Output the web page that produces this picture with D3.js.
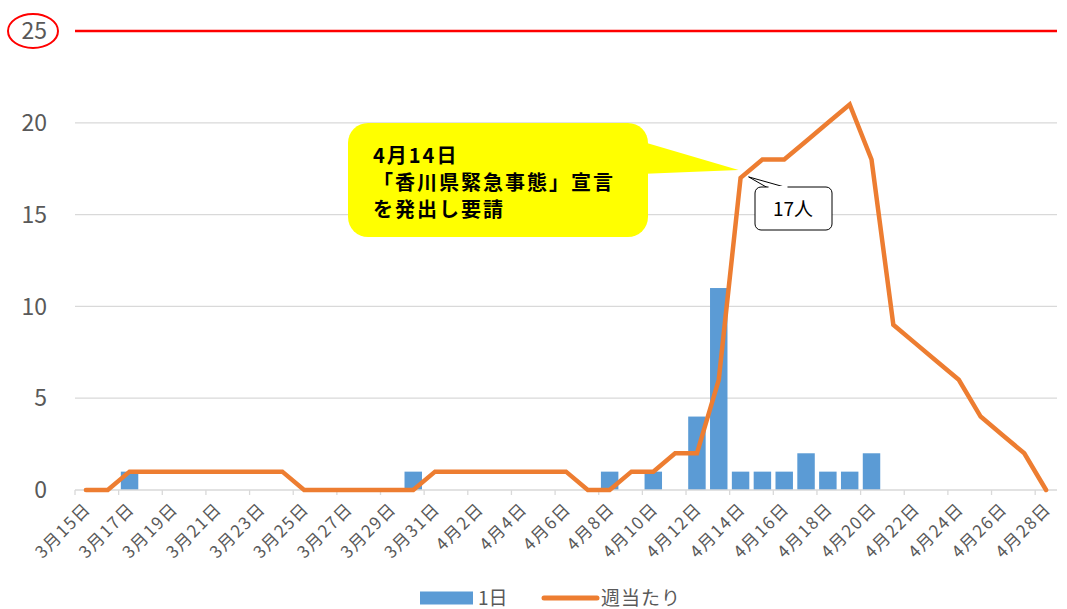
<!DOCTYPE html>
<html>
<head>
<meta charset="utf-8">
<script src="https://cdn.jsdelivr.net/npm/d3@7"></script>
<style>
  body { margin: 0; background: #fff; }
  svg { display: block; font-family: "Noto Sans CJK JP", "Noto Sans", sans-serif; }
</style>
</head>
<body>
<svg id="chart" width="1067" height="609"></svg>
<script>
// ---- données ----
const dates = [
  "3月15日","3月16日","3月17日","3月18日","3月19日","3月20日","3月21日","3月22日","3月23日",
  "3月24日","3月25日","3月26日","3月27日","3月28日","3月29日","3月30日","3月31日",
  "4月1日","4月2日","4月3日","4月4日","4月5日","4月6日","4月7日","4月8日","4月9日","4月10日",
  "4月11日","4月12日","4月13日","4月14日","4月15日","4月16日","4月17日","4月18日","4月19日",
  "4月20日","4月21日","4月22日","4月23日","4月24日","4月25日","4月26日","4月27日","4月28日"
];
const daily = [
  0,0,1,0,0,0,0,0,0, 0,0,0,0,0,0,1,0,
  0,0,0,0,0,0,0,1,0,1, 0,4,11,1,1,1,2,1,1, 2,0,0,0,0,0,0,0,0
];
const weekly = [
  0,0,1,1,1,1,1,1,1, 1,0,0,0,0,0,0,1,
  1,1,1,1,1,1,0,0,1,1, 2,2,6,17,18,18,19,20,21, 18,9,8,7,6,4,3,2,0
];
const yTicks = [0, 5, 10, 15, 20, 25];
const seriesNames = ["1日", "週当たり"];
const noteLines = ["4月14日", "「香川県緊急事態」宣言", "を発出し要請"];
const peakLabel = "17人";

// ---- mise en page ----
const svg = d3.select("#chart");
const plotLeft = 75, plotRight = 1057, plotTop = 31, plotBottom = 490;

const x = d3.scaleBand().domain(dates).range([plotLeft, plotRight]).paddingInner(0.2).paddingOuter(0.1);
const step = x.step();
const xc = d => x(d) + x.bandwidth() / 2;
const y = d3.scaleLinear().domain([0, 25]).range([plotBottom, plotTop]);

// grille
svg.append("g").selectAll("line")
  .data(yTicks.filter(t => t > 0 && t < 25))
  .join("line")
  .attr("x1", plotLeft).attr("x2", plotRight)
  .attr("y1", d => y(d)).attr("y2", d => y(d))
  .attr("stroke", "#d9d9d9").attr("stroke-width", 1.3);

// ligne rouge à 25
svg.append("line")
  .attr("x1", plotLeft).attr("x2", plotRight)
  .attr("y1", y(25)).attr("y2", y(25))
  .attr("stroke", "#ff0000").attr("stroke-width", 2.5);

// étiquettes Y
svg.append("g").selectAll("text")
  .data(yTicks)
  .join("text")
  .attr("x", 47).attr("y", d => y(d))
  .attr("dy", "0.36em")
  .attr("text-anchor", "end")
  .style("font-size", "23px")
  .style("fill", "#595959")
  .text(d => d);

svg.append("ellipse")
  .attr("cx", 33).attr("cy", y(25))
  .attr("rx", 25).attr("ry", 17)
  .attr("fill", "none").attr("stroke", "#ff0000").attr("stroke-width", 2);

// barres
svg.append("g").selectAll("rect")
  .data(dates.map((d, i) => ({ d, v: daily[i] })).filter(o => o.v > 0))
  .join("rect")
  .attr("x", o => x(o.d))
  .attr("width", x.bandwidth())
  .attr("y", o => y(o.v))
  .attr("height", o => y(0) - y(o.v))
  .attr("fill", "#5b9bd5");

// axe X
svg.append("line")
  .attr("x1", plotLeft).attr("x2", plotRight)
  .attr("y1", plotBottom).attr("y2", plotBottom)
  .attr("stroke", "#d9d9d9").attr("stroke-width", 1.3);

const tickIdx = d3.range(0, dates.length + 1, 2);
svg.append("g").selectAll("line")
  .data(tickIdx)
  .join("line")
  .attr("x1", i => plotLeft + i * step).attr("x2", i => plotLeft + i * step)
  .attr("y1", plotBottom).attr("y2", plotBottom + 5)
  .attr("stroke", "#d9d9d9").attr("stroke-width", 1.3);

svg.append("g").selectAll("text")
  .data(dates.filter((d, i) => i % 2 === 0))
  .join("text")
  .attr("transform", d => `translate(${xc(d) + 6},${plotBottom + 20}) rotate(-45)`)
  .attr("text-anchor", "end")
  .style("font-size", "17px")
  .style("letter-spacing", "1.5px")
  .style("fill", "#595959")
  .text(d => d);

// ligne hebdomadaire
const line = d3.line().x((v, i) => xc(dates[i])).y(v => y(v));
svg.append("path")
  .datum(weekly)
  .attr("d", line)
  .attr("fill", "none")
  .attr("stroke", "#ed7d31")
  .attr("stroke-width", 4.5)
  .attr("stroke-linecap", "round")
  .attr("stroke-linejoin", "miter");

// bulle jaune
const i14 = dates.indexOf("4月14日");
const tipX = xc(dates[i14]), tipY = y(weekly[i14]);
svg.append("path")
  .attr("d", `M640,141 L${tipX - 2},${tipY - 8} L640,174 Z`)
  .attr("fill", "#ffff00");
svg.append("rect")
  .attr("x", 348).attr("y", 123).attr("width", 300).attr("height", 114)
  .attr("rx", 20).attr("fill", "#ffff00");
svg.append("g").selectAll("text")
  .data(noteLines)
  .join("text")
  .attr("x", 373)
  .attr("y", (d, i) => 163 + i * 27)
  .style("font-size", "20px")
  .style("font-weight", "bold")
  .style("letter-spacing", "2px")
  .style("fill", "#000")
  .text(d => d);

// bulle 17人
svg.append("path")
  .attr("d", `M768,188 L${tipX + 8},${tipY - 1} L788,188`)
  .attr("fill", "#fff").attr("stroke", "#000").attr("stroke-width", 1);
svg.append("rect")
  .attr("x", 755).attr("y", 187).attr("width", 77).attr("height", 43)
  .attr("rx", 6).attr("fill", "#fff").attr("stroke", "#000").attr("stroke-width", 1);
svg.append("line")
  .attr("x1", 768.5).attr("x2", 787.5).attr("y1", 187).attr("y2", 187)
  .attr("stroke", "#fff").attr("stroke-width", 2);
svg.append("text")
  .attr("x", 793).attr("y", 209).attr("dy", "0.36em")
  .attr("text-anchor", "middle")
  .style("font-size", "19px")
  .style("fill", "#000")
  .text(peakLabel);

// légende
const leg = svg.append("g").attr("transform", "translate(0,598)");
leg.append("rect").attr("x", 420).attr("y", -6.5).attr("width", 53).attr("height", 13).attr("fill", "#5b9bd5");
leg.append("text").attr("x", 478).attr("y", 0).attr("dy", "0.36em")
  .style("font-size", "19px").style("fill", "#595959").text(seriesNames[0]);
leg.append("line").attr("x1", 544).attr("x2", 597).attr("y1", 0).attr("y2", 0)
  .attr("stroke", "#ed7d31").attr("stroke-width", 5).attr("stroke-linecap", "round");
leg.append("text").attr("x", 601).attr("y", 0).attr("dy", "0.36em")
  .style("font-size", "19px").style("letter-spacing", "1px").style("fill", "#595959").text(seriesNames[1]);
</script>
</body>
</html>
